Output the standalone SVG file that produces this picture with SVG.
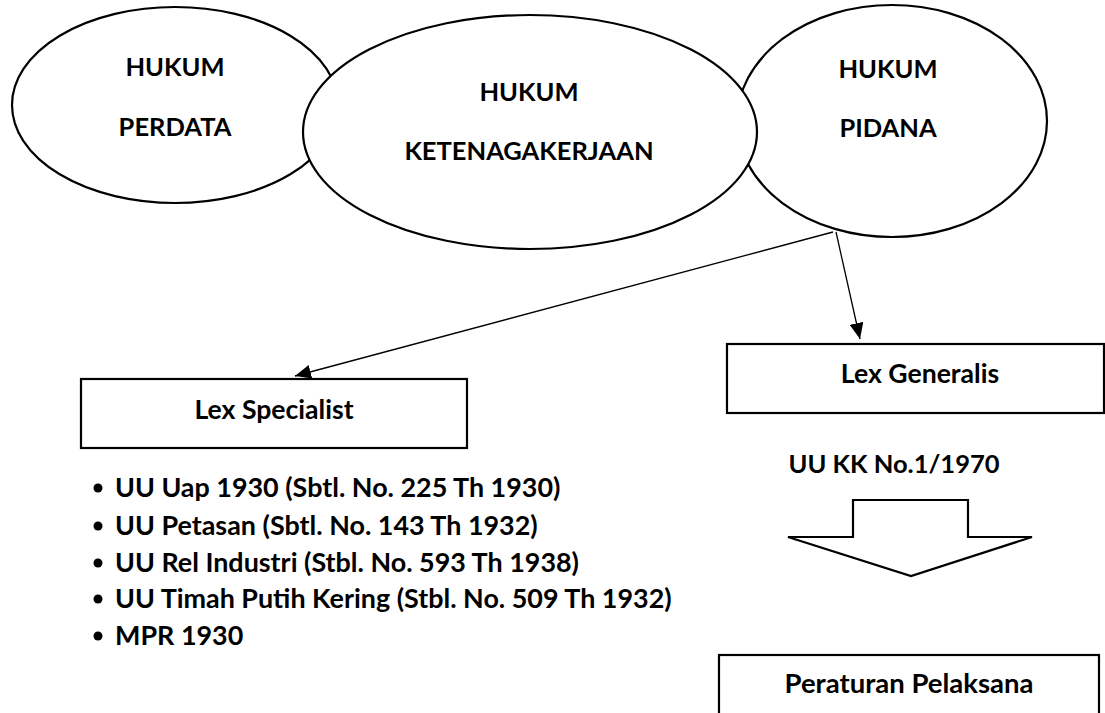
<svg xmlns="http://www.w3.org/2000/svg" width="1105" height="713" viewBox="0 0 1105 713">
<style>
.t{font-family:Lato,"Liberation Sans",sans-serif;font-weight:bold;font-size:25.5px;fill:#000}
.l{font-size:26.6px}
.li{font-size:26.9px}
.c{text-anchor:middle}
.ell{fill:#fff;stroke:#000;stroke-width:2.2}
.box{fill:#fff;stroke:#000;stroke-width:2.2}
.con{stroke:#000;stroke-width:1.3;fill:none}
</style>
<defs>
<marker id="ah" markerUnits="userSpaceOnUse" markerWidth="17" markerHeight="14" refX="16" refY="7" orient="auto">
<path d="M0,0 L16,7 L0,14 z" fill="#000"/>
</marker>
</defs>
<rect width="1105" height="713" fill="#fff"/>
<g id="perdata">
<ellipse class="ell" cx="175" cy="105" rx="163" ry="98"/>
<text class="t c" x="175" y="76">HUKUM</text>
<text class="t c" x="175" y="136">PERDATA</text>
</g>
<g id="pidana">
<ellipse class="ell" cx="892" cy="121" rx="155" ry="116"/>
<text class="t c" x="888" y="78">HUKUM</text>
<text class="t c" x="888" y="137">PIDANA</text>
</g>
<g id="ketenagakerjaan">
<ellipse class="ell" cx="530" cy="132" rx="227" ry="117"/>
<text class="t c" x="529" y="101">HUKUM</text>
<text class="t c" x="529" y="160">KETENAGAKERJAAN</text>
</g>
<g id="connectors">
<line class="con" x1="833" y1="232" x2="295" y2="376" marker-end="url(#ah)"/>
<line class="con" x1="836" y1="232" x2="860" y2="339" marker-end="url(#ah)"/>
</g>
<g id="lex-specialist">
<rect class="box" x="81" y="379" width="386" height="69"/>
<text class="t l c" x="274" y="419">Lex Specialist</text>
</g>
<g id="lex-generalis">
<rect class="box" x="727" y="344" width="377" height="69"/>
<text class="t l c" x="920" y="383">Lex Generalis</text>
</g>
<g id="uu-list">
<circle cx="98" cy="488" r="4.5"/>
<text class="t li" x="115" y="497">UU Uap 1930 (Sbtl. No. 225 Th 1930)</text>
<circle cx="98" cy="526" r="4.5"/>
<text class="t li" x="115" y="535">UU Petasan (Sbtl. No. 143 Th 1932)</text>
<circle cx="98" cy="563" r="4.5"/>
<text class="t li" x="115" y="572">UU Rel Industri (Stbl. No. 593 Th 1938)</text>
<circle cx="98" cy="599" r="4.5"/>
<text class="t li" x="115" y="608">UU Timah Putih Kering (Stbl. No. 509 Th 1932)</text>
<circle cx="98" cy="636" r="4.5"/>
<text class="t li" x="115" y="645">MPR 1930</text>
</g>
<g id="uu-kk">
<text class="t c" x="894" y="473">UU KK No.1/1970</text>
</g>
<g id="block-arrow">
<path class="box" d="M853,500 L968,500 L968,537 L1032,537 L911,576 L788,537 L853,537 Z"/>
</g>
<g id="peraturan-pelaksana">
<rect class="box" x="719" y="655" width="380" height="70"/>
<text class="t c" style="font-size:27.5px" x="909" y="693">Peraturan Pelaksana</text>
</g>
</svg>
